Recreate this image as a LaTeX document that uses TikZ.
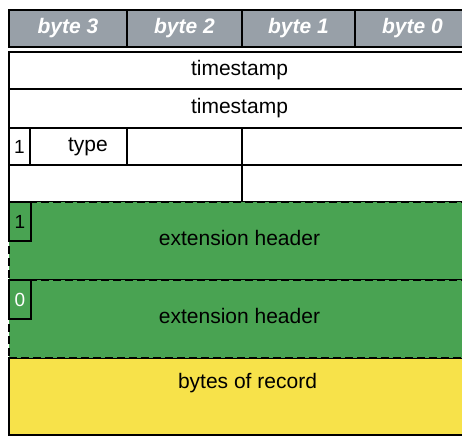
\documentclass[tikz,border=0pt]{standalone}
\usepackage{fontspec}
\setmainfont{Liberation Sans}
\definecolor{hdrgrey}{RGB}{152,160,168}
\definecolor{extgreen}{RGB}{73,163,82}
\definecolor{recyellow}{RGB}{247,226,74}
\tikzset{
  cell/.style={draw,line width=1.6pt,outer sep=0pt,inner sep=0pt,anchor=north west,
    fill=white,font=\fontsize{21}{24}\selectfont},
  hdr/.style={cell,fill=hdrgrey,text=white,font=\fontsize{21}{24}\selectfont\bfseries\itshape},
  ext/.style={cell,fill=extgreen,dash pattern=on 8pt off 4pt},
  numbox/.style={cell,fill=extgreen,font=\fontsize{19}{22}\selectfont},
  txt/.style={font=\fontsize{21}{24}\selectfont}
}
\begin{document}
\begin{tikzpicture}
  [x=1pt,y=-1pt]
  \useasboundingbox (0,0) rectangle (462,437);
  \clip (0,0) rectangle (462,437);

  % byte header
  \foreach \name/\x/\w/\n in {b3/9/118/3,b2/127/115/2,b1/242/113/1,b0/355/115/0}
    \node[hdr,minimum width=\w pt,minimum height=37pt] (\name) at (\x,10) {byte \n};

  % fixed part
  \node[cell,minimum width=461pt,minimum height=37pt] (ts1) at (9,52) {timestamp};
  \node[cell,minimum width=461pt,minimum height=39pt] (ts2) at (9,89) {timestamp};
  \node[cell,minimum width=21pt,minimum height=37pt,font=\fontsize{19}{22}\selectfont] (flag) at (9,128) {1};
  \node[cell,minimum width=97pt,minimum height=37pt] (typ) at (30,128) {};
  \node[txt] (typtext) at ([xshift=9.5pt]typ.center) {type};
  \node[cell,minimum width=115pt,minimum height=37pt] (f2) at (127,128) {};
  \node[cell,minimum width=228pt,minimum height=37pt] (f3) at (242,128) {};
  \node[cell,minimum width=233pt,minimum height=37pt] (f4) at (9,165) {};
  \node[cell,minimum width=228pt,minimum height=37pt] (f5) at (242,165) {};

  % record bytes, then extension headers on top
  \node[cell,fill=recyellow,minimum width=461pt,minimum height=77pt] (rec) at (9,358) {};
  \node[txt] (rectext) at ([xshift=8pt,yshift=13pt]rec.center) {bytes of record};
  \node[ext,minimum width=461pt,minimum height=78pt] (ext1) at (9,202) {};
  \node[txt] (ext1text) at ([yshift=3pt]ext1.center) {extension header};
  \node[ext,minimum width=461pt,minimum height=78pt] (ext2) at (9,280) {};
  \node[txt] (ext2text) at ([yshift=3pt]ext2.center) {extension header};
  \node[numbox,minimum width=22pt,minimum height=39pt] (more1) at (9,202) {1};
  \node[numbox,minimum width=22pt,minimum height=39pt,text=white] (more0) at (9,280) {0};

\end{tikzpicture}
\end{document}
